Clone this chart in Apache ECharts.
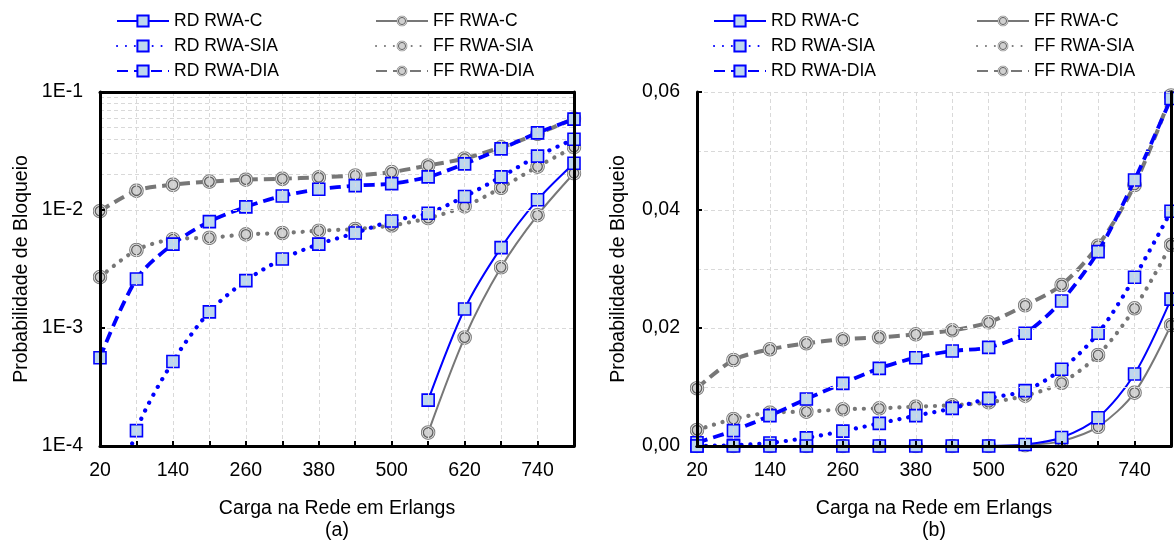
<!DOCTYPE html>
<html>
<head>
<meta charset="utf-8">
<script src="https://cdn.jsdelivr.net/npm/echarts/dist/echarts.min.js"></script>
<style>
  html, body { margin: 0; padding: 0; background: #fff; }
  #chart { width: 1174px; height: 541px; }
</style>
</head>
<body>
<div id="chart"></div>
<script>
// Network load (Erlangs) on the x axis
const loads = ['20', '80', '140', '200', '260', '320', '380', '440', '500', '560', '620', '680', '740', '800'];

// Blocking probability per algorithm
const rdC   = [0, 0, 0, 0, 0, 0, 0, 0, 0, 0.000245, 0.00145, 0.0048, 0.0122, 0.0249];
const rdSIA = [0.00001, 0.000135, 0.00052, 0.00137, 0.00252, 0.00384, 0.00514, 0.00638, 0.00808, 0.00938, 0.0130, 0.0191, 0.0286, 0.0398];
const rdDIA = [0.00056, 0.0026, 0.00514, 0.00797, 0.01062, 0.01316, 0.01497, 0.0161, 0.01672, 0.0191, 0.02458, 0.03294, 0.04508, 0.0589];
const ffC   = [0, 0, 0, 0, 0, 0, 0, 0, 0, 0.00013, 0.00083, 0.00327, 0.00904, 0.0205];
const ffSIA = [0.0027, 0.00458, 0.00565, 0.00582, 0.00621, 0.00638, 0.00667, 0.0069, 0.0074, 0.00853, 0.01073, 0.01542, 0.02333, 0.0341];
const ffDIA = [0.00978, 0.01458, 0.01638, 0.0174, 0.01808, 0.01842, 0.01892, 0.0196, 0.02096, 0.02384, 0.0273, 0.03396, 0.04424, 0.0594];

// Decades shown on the logarithmic axis
const logDecades = [1e-4, 1e-3, 1e-2];

const FONT = '"Liberation Sans", Arial, sans-serif';
const BLUE = '#0000ff';
const GREY = '#777777';
const GRID_LINE = '#d9d9d9';
const FRAME = { show: true, lineStyle: { color: '#000', width: 3 } };

const circleSvg =
  "<svg xmlns='http://www.w3.org/2000/svg' width='30' height='30'>" +
  "<circle cx='15' cy='15' r='13.6' fill='#f2f2f2' stroke='#808080' stroke-width='2.2'/>" +
  "<circle cx='15' cy='15' r='9.6' fill='#d0d0d0' stroke='#5e5e5e' stroke-width='2.6'/></svg>";
const CIRCLE = 'image://data:image/svg+xml;charset=utf-8,' + encodeURIComponent(circleSvg);

const styles = {
  'RD RWA-C':   { color: BLUE, width: 2,   type: 'solid',    cap: 'butt',  symbol: 'rect' },
  'RD RWA-SIA': { color: BLUE, width: 4.2, type: [0.1, 8.8], cap: 'round', symbol: 'rect' },
  'RD RWA-DIA': { color: BLUE, width: 3.8, type: [11, 6],    cap: 'butt',  symbol: 'rect' },
  'FF RWA-C':   { color: GREY, width: 2,   type: 'solid',    cap: 'butt',  symbol: CIRCLE },
  'FF RWA-SIA': { color: GREY, width: 4.2, type: [0.1, 8.8], cap: 'round', symbol: CIRCLE },
  'FF RWA-DIA': { color: GREY, width: 4,   type: [11, 6],    cap: 'butt',  symbol: CIRCLE }
};

const seriesData = {
  'RD RWA-C': rdC, 'RD RWA-SIA': rdSIA, 'RD RWA-DIA': rdDIA,
  'FF RWA-C': ffC, 'FF RWA-SIA': ffSIA, 'FF RWA-DIA': ffDIA
};

// Draw order: FF curves first, RD on top
const order = ['FF RWA-DIA', 'FF RWA-SIA', 'FF RWA-C', 'RD RWA-DIA', 'RD RWA-SIA', 'RD RWA-C'];

function makeSeries(name, axisIndex, isLog) {
  const s = styles[name];
  const isRect = s.symbol === 'rect';
  const vals = seriesData[name].map(v => (isLog && v <= 0) ? null : v);
  return {
    name: name,
    type: 'line',
    xAxisIndex: axisIndex,
    yAxisIndex: axisIndex,
    data: vals,
    smooth: 0.3,
    symbol: s.symbol,
    symbolSize: isRect ? 12 : 15,
    showAllSymbol: true,
    connectNulls: false,
    lineStyle: { color: s.color, width: s.width, type: s.type, cap: s.cap },
    itemStyle: isRect
      ? { color: '#bdd7ee', borderColor: BLUE, borderWidth: 1.6 }
      : { color: '#d0d0d0', borderColor: '#5e5e5e', borderWidth: 1.5 },
    emphasis: { disabled: true },
    z: isRect ? 4 : 3
  };
}

// Minor gridlines for the log axis (2..9 within each decade)
const minorLogLines = [];
logDecades.forEach(d => {
  for (let k = 2; k <= 9; k++) minorLogLines.push({ yAxis: +(d * k).toPrecision(3) });
});

const series = [];
order.forEach(n => series.push(makeSeries(n, 0, true)));
order.forEach(n => series.push(makeSeries(n, 1, false)));
series[0].markLine = {
  silent: true,
  symbol: 'none',
  z: 1,
  label: { show: false },
  lineStyle: { color: GRID_LINE, type: [4, 3], width: 1 },
  data: minorLogLines,
  animation: false
};

function xAxisFor(idx, sub) {
  return {
    type: 'category',
    gridIndex: idx,
    data: loads,
    boundaryGap: false,
    name: 'Carga na Rede em Erlangs\n' + sub,
    nameLocation: 'middle',
    nameGap: 52,
    nameTextStyle: { fontFamily: FONT, fontSize: 19.5, color: '#000', lineHeight: 22 },
    axisLine: FRAME,
    axisTick: { show: true, inside: true, length: 5, interval: 0, alignWithLabel: true,
                lineStyle: { color: '#000', width: 2 } },
    axisLabel: { interval: 1, margin: 15, fontFamily: FONT, fontSize: 19.5, color: '#000' },
    splitLine: { show: true, interval: 0, lineStyle: { color: GRID_LINE, type: [4, 3], width: 1 } },
    z: 5
  };
}

// Top / right edges of each plot frame
function frameX(idx) {
  return {
    type: 'category', gridIndex: idx, data: loads, boundaryGap: false, position: 'top',
    axisLine: FRAME, axisTick: { show: false }, axisLabel: { show: false }, splitLine: { show: false }, z: 5
  };
}
function frameY(idx, base) {
  return Object.assign({}, base, {
    position: 'right', name: '', axisLine: FRAME, axisTick: { show: false },
    axisLabel: { show: false }, splitLine: { show: false }, minorSplitLine: { show: false }, z: 5
  });
}

const yName = {
  name: 'Probabilidade de Bloqueio',
  nameLocation: 'middle',
  nameGap: 68,
  nameTextStyle: { fontFamily: FONT, fontSize: 19.5, color: '#000' }
};

const yLog = Object.assign({
  type: 'log',
  gridIndex: 0,
  logBase: 10,
  min: 1e-4,
  max: 1e-1,
  axisLine: FRAME,
  axisTick: { show: true, inside: true, length: 5, lineStyle: { color: '#000', width: 2 } },
  axisLabel: {
    margin: 17, fontFamily: FONT, fontSize: 19.5, color: '#000',
    formatter: v => '1E' + Math.round(Math.log10(v))
  },
  splitLine: { show: true, lineStyle: { color: GRID_LINE, type: [4, 3], width: 1 } },
  z: 5
}, yName);

const yLin = Object.assign({
  type: 'value',
  gridIndex: 1,
  min: 0,
  max: 0.06,
  interval: 0.02,
  axisLine: FRAME,
  axisTick: { show: true, inside: true, length: 5, lineStyle: { color: '#000', width: 2 } },
  minorTick: { show: false, splitNumber: 2 },
  minorSplitLine: { show: true, lineStyle: { color: GRID_LINE, type: [4, 3], width: 1 } },
  axisLabel: {
    margin: 17, fontFamily: FONT, fontSize: 19.5, color: '#000',
    formatter: v => v.toFixed(2).replace('.', ',')
  },
  splitLine: { show: true, lineStyle: { color: GRID_LINE, type: [4, 3], width: 1 } },
  z: 5
}, yName);

const legendBase = {
  orient: 'vertical',
  top: 7,
  padding: 5,
  itemWidth: 52,
  itemHeight: 14,
  itemGap: 7,
  selectedMode: false,
  textStyle: { fontFamily: FONT, fontSize: 17.5, color: '#000', lineHeight: 18 }
};

const option = {
  animation: false,
  backgroundColor: '#fff',
  legend: [
    Object.assign({}, legendBase, { left: 111, data: ['RD RWA-C', 'RD RWA-SIA', 'RD RWA-DIA'] }),
    Object.assign({}, legendBase, { left: 370, data: ['FF RWA-C', 'FF RWA-SIA', 'FF RWA-DIA'] }),
    Object.assign({}, legendBase, { left: 708, data: ['RD RWA-C', 'RD RWA-SIA', 'RD RWA-DIA'] }),
    Object.assign({}, legendBase, { left: 971, data: ['FF RWA-C', 'FF RWA-SIA', 'FF RWA-DIA'] })
  ],
  grid: [
    { left: 100, top: 92, width: 474, height: 354, outerBoundsMode: 'none', containLabel: false },
    { left: 697, top: 92, width: 474, height: 354, outerBoundsMode: 'none', containLabel: false }
  ],
  xAxis: [xAxisFor(0, '(a)'), xAxisFor(1, '(b)'), frameX(0), frameX(1)],
  yAxis: [yLog, yLin, frameY(0, yLog), frameY(1, yLin)],
  series: series
};

const chart = echarts.init(document.getElementById('chart'), null, { renderer: 'canvas' });
chart.setOption(option);
</script>
</body>
</html>
